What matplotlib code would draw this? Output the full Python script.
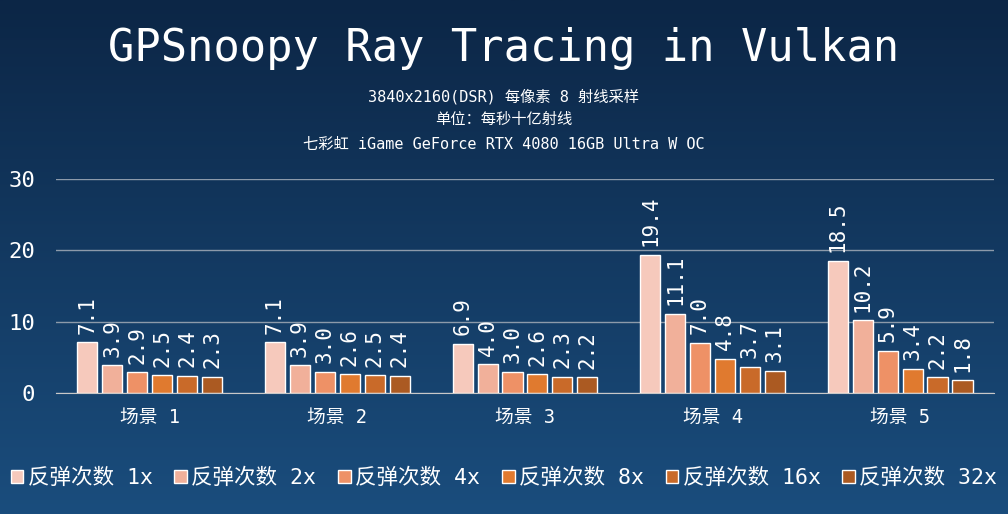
import matplotlib.pyplot as plt
import numpy as np
from matplotlib.colors import LinearSegmentedColormap

plt.rcParams['font.family'] = ['DejaVu Sans Mono', 'Noto Sans CJK SC']

scenes = ['场景 1', '场景 2', '场景 3', '场景 4', '场景 5']
bounces = ['反弹次数 1x', '反弹次数 2x', '反弹次数 4x', '反弹次数 8x', '反弹次数 16x', '反弹次数 32x']
b1 = [7.1, 7.1, 6.9, 19.4, 18.5]
b2 = [3.9, 3.9, 4.0, 11.1, 10.2]
b4 = [2.9, 3.0, 3.0, 7.0, 5.9]
b8 = [2.5, 2.6, 2.6, 4.8, 3.4]
b16 = [2.4, 2.5, 2.3, 3.7, 2.2]
b32 = [2.3, 2.4, 2.2, 3.1, 1.8]
series = [b1, b2, b4, b8, b16, b32]
colors = ['#f6c9bc', '#f1b09a', '#ee9166', '#e07a2f', '#c96a29', '#ab5a22']

fig = plt.figure(figsize=(10.08, 5.14), dpi=100)

# gradient background
bg = fig.add_axes([0, 0, 1, 1], zorder=-10)
cmap = LinearSegmentedColormap.from_list('bg', ['#0c2646', '#1a4d7d'])
bg.imshow(np.linspace(0, 1, 256).reshape(-1, 1), aspect='auto', cmap=cmap,
          extent=[0, 1, 0, 1], origin='upper')
bg.axis('off')

ax = fig.add_axes([0.0556, 0.2354, 0.9304, 0.4166])
ax.patch.set_alpha(0)

x = np.arange(len(scenes))
w = 0.107
step = 0.133
for i, vals in enumerate(series):
    xs = x + (i - 2.5) * step
    ax.bar(xs, vals, width=w, color=colors[i], edgecolor='white', linewidth=1,
           label=bounces[i], zorder=3)
    for xi, v in zip(xs, vals):
        ax.text(xi, v + 1.2, f'{v:.1f}', rotation=90, ha='center', va='bottom',
                color='white', fontsize=15, clip_on=False)

ax.set_xlim(-0.5, 4.5)
ax.set_ylim(0, 30)
ax.set_yticks([0, 10, 20, 30])
ax.yaxis.grid(True, color='#8c9aaa', linewidth=1)
ax.set_axisbelow(True)
for s in ['top', 'right', 'left']:
    ax.spines[s].set_visible(False)
ax.spines['bottom'].set_color('#c8c8c8')
ax.tick_params(axis='y', length=0, labelsize=16, labelcolor='white', pad=15)
ax.tick_params(axis='x', length=0, labelsize=13.5, labelcolor='white', pad=11)
ax.set_xticks(x)
ax.set_xticklabels(scenes)

fig.text(0.5, 0.905, 'GPSnoopy Ray Tracing in Vulkan', ha='center', va='center',
         color='white', fontsize=31.5)
fig.text(0.5, 0.812, '3840x2160(DSR) 每像素 8 射线采样', ha='center', va='center',
         color='white', fontsize=11)
fig.text(0.5, 0.767, '单位：每秒十亿射线', ha='center', va='center',
         color='white', fontsize=11)
fig.text(0.5, 0.718, '七彩虹 iGame GeForce RTX 4080 16GB Ultra W OC', ha='center', va='center',
         color='white', fontsize=11)

leg = fig.legend(loc='center', bbox_to_anchor=(0.5, 0.07), ncol=6, frameon=False,
                 fontsize=15.5, labelcolor='white', handlelength=0.6, handleheight=0.6,
                 handletextpad=0.2, columnspacing=1.0)

fig.savefig('out.png', dpi=100)
